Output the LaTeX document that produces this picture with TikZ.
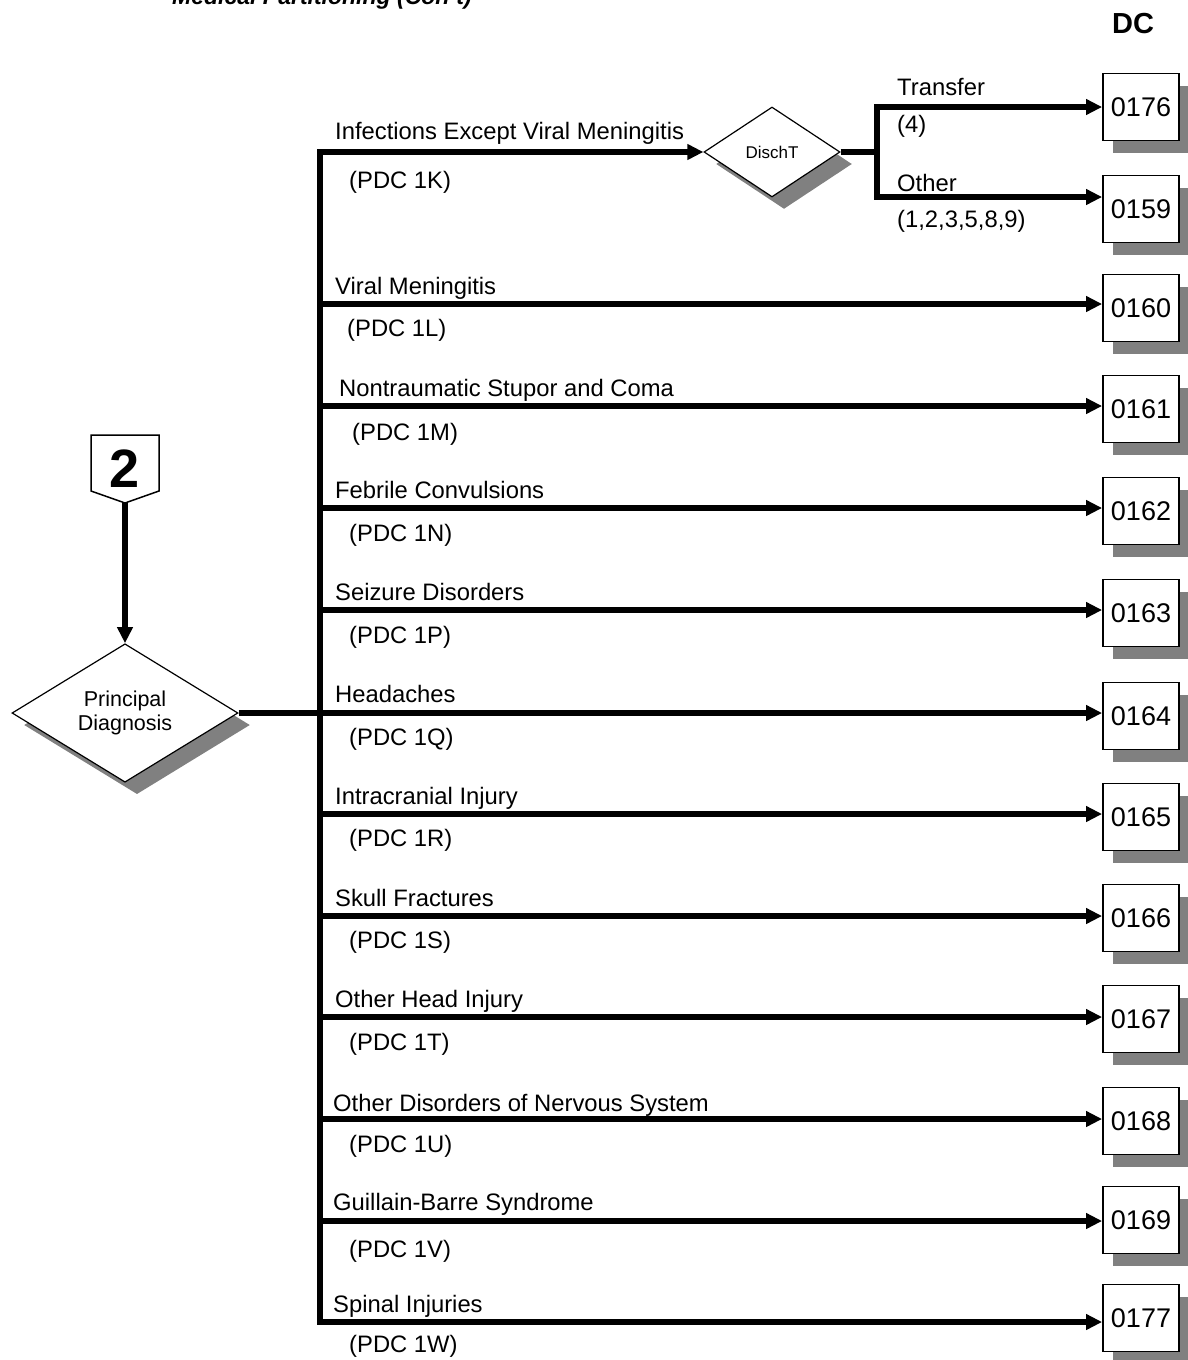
\documentclass[tikz,border=0pt]{standalone}
\usepackage{fontspec}
\setmainfont{Liberation Sans}
\usetikzlibrary{arrows.meta,shapes.geometric,shadows}
\begin{document}
\begin{tikzpicture}[x=1pt,y=-1pt,
  conn/.style={line width=5.5pt, line join=miter, line cap=butt},
  arr/.style={conn, -{Triangle[length=16pt,width=15pt]}},
  lbl/.style={anchor=base west, inner sep=0pt, font=\fontsize{23.8}{28}\selectfont},
  dcbox/.style={draw, line width=1.8pt, fill=white, minimum width=76pt, minimum height=67pt, inner sep=0pt, font=\fontsize{27}{30}\selectfont, drop shadow={shadow xshift=10pt, shadow yshift=-12pt, fill=black!50, opacity=1}},
  dec/.style={diamond, draw, line width=1.2pt, fill=white, inner sep=0pt, drop shadow={shadow xshift=12pt, shadow yshift=-12pt, fill=black!50, opacity=1}}
]
\useasboundingbox (0,0) rectangle (1187,1360);

% titles
\node[anchor=base west, inner sep=0pt, font=\fontsize{23}{27}\selectfont\bfseries\itshape] (title) at (172,4) {Medical Partitioning (Con't)};
\node[anchor=base, inner sep=0pt, font=\fontsize{29}{32}\selectfont\bfseries] (dc) at (1133,33) {DC};

% boxes
\node[dcbox] (b0176) at (1141,107) {0176};
\node[dcbox] (b0159) at (1141,209) {0159};
\node[dcbox] (b0160) at (1141,308) {0160};
\node[dcbox] (b0161) at (1141,409) {0161};
\node[dcbox] (b0162) at (1141,511) {0162};
\node[dcbox] (b0163) at (1141,613) {0163};
\node[dcbox] (b0164) at (1141,716) {0164};
\node[dcbox] (b0165) at (1141,817) {0165};
\node[dcbox] (b0166) at (1141,918) {0166};
\node[dcbox] (b0167) at (1141,1019) {0167};
\node[dcbox] (b0168) at (1141,1121) {0168};
\node[dcbox] (b0169) at (1141,1220) {0169};
\node[dcbox] (b0177) at (1141,1318) {0177};

% diamonds
\node[dec, minimum width=136pt, minimum height=90pt, font=\fontsize{17}{20}\selectfont] (dt) at (772,152) {DischT};
\node[dec, minimum width=226pt, minimum height=112pt, align=center, font=\fontsize{21.5}{24}\selectfont] (pd) at (125,713) {Principal\\Diagnosis};

% off-page connector "2"
\draw[line width=1.5pt, fill=white] (91,435) -- (159,435) -- (159,491) -- (125,503) -- (91,491) -- cycle;
\node[inner sep=0pt, font=\fontsize{54}{58}\selectfont\bfseries] (p2) at (125,469) {2};
\coordinate (ptip) at (125,503);
\draw[arr] (ptip) -- (pd.north);

% trunk coordinates
\coordinate (r1) at (320,152);
\coordinate (r2) at (320,304);
\coordinate (r3) at (320,406);
\coordinate (r4) at (320,508);
\coordinate (r5) at (320,610);
\coordinate (r6) at (320,713);
\coordinate (r7) at (320,814);
\coordinate (r8) at (320,916);
\coordinate (r9) at (320,1017);
\coordinate (r10) at (320,1119);
\coordinate (r11) at (320,1221);
\coordinate (r12) at (320,1322);

% connectors
\draw[arr] (r12) -- (r1) -- (dt.west);
\draw[arr] (r1) -- (r12) -- (r12 -| b0177.west);
\draw[conn] (pd.east) -- (r6);
\draw[arr] (r2) -- (r2 -| b0160.west);
\draw[arr] (r3) -- (r3 -| b0161.west);
\draw[arr] (r4) -- (r4 -| b0162.west);
\draw[arr] (r5) -- (r5 -| b0163.west);
\draw[arr] (r6) -- (r6 -| b0164.west);
\draw[arr] (r7) -- (r7 -| b0165.west);
\draw[arr] (r8) -- (r8 -| b0166.west);
\draw[arr] (r9) -- (r9 -| b0167.west);
\draw[arr] (r10) -- (r10 -| b0168.west);
\draw[arr] (r11) -- (r11 -| b0169.west);

% DischT split
\coordinate (sp) at (877,152);
\coordinate (spt) at (877,107);
\coordinate (spb) at (877,197);
\draw[conn] (dt.east) -- (sp);
\draw[arr] (sp) -- (spt) -- (spt -| b0176.west);
\draw[arr] (sp) -- (spb) -- (spb -| b0159.west);

% DischT labels
\node[lbl] (ltr) at (897,95) {Transfer};
\node[lbl] (ltr2) at (897,132) {(4)};
\node[lbl] (lot) at (897,191) {Other};
\node[lbl] (lot2) at (897,227) {(1,2,3,5,8,9)};

% branch labels
\node[lbl] (l1) at (335,139) {Infections Except Viral Meningitis};
\node[lbl] (p1) at (349,188) {(PDC 1K)};
\node[lbl] (l2) at (335,294) {Viral Meningitis};
\node[lbl] (p2l) at (347,336) {(PDC 1L)};
\node[lbl] (l3) at (339,396) {Nontraumatic Stupor and Coma};
\node[lbl] (p3) at (352,440) {(PDC 1M)};
\node[lbl] (l4) at (335,498) {Febrile Convulsions};
\node[lbl] (p4) at (349,541) {(PDC 1N)};
\node[lbl] (l5) at (335,600) {Seizure Disorders};
\node[lbl] (p5) at (349,643) {(PDC 1P)};
\node[lbl] (l6) at (335,702) {Headaches};
\node[lbl] (p6) at (349,745) {(PDC 1Q)};
\node[lbl] (l7) at (335,804) {Intracranial Injury};
\node[lbl] (p7) at (349,846) {(PDC 1R)};
\node[lbl] (l8) at (335,906) {Skull Fractures};
\node[lbl] (p8) at (349,948) {(PDC 1S)};
\node[lbl] (l9) at (335,1007) {Other Head Injury};
\node[lbl] (p9) at (349,1050) {(PDC 1T)};
\node[lbl] (l10) at (333,1111) {Other Disorders of Nervous System};
\node[lbl] (p10) at (349,1152) {(PDC 1U)};
\node[lbl] (l11) at (333,1210) {Guillain-Barre Syndrome};
\node[lbl] (p11) at (349,1257) {(PDC 1V)};
\node[lbl] (l12) at (333,1312) {Spinal Injuries};
\node[lbl] (p12) at (349,1352) {(PDC 1W)};
\end{tikzpicture}
\end{document}
